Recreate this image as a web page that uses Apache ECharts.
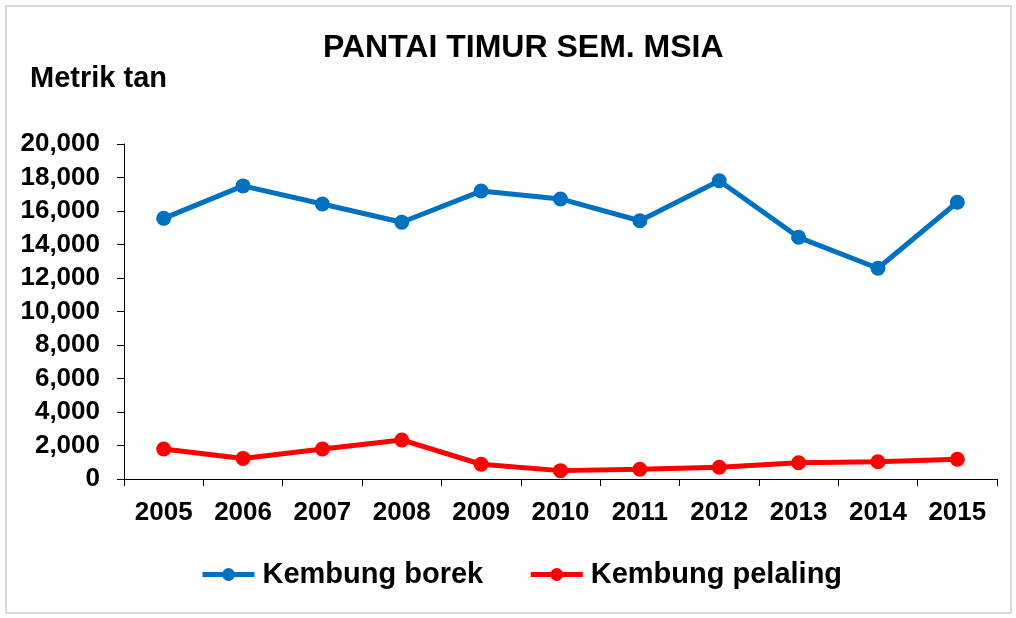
<!DOCTYPE html>
<html>
<head>
<meta charset="utf-8">
<script src="https://cdn.jsdelivr.net/npm/echarts@6/dist/echarts.min.js"></script>
<style>
  html, body { margin: 0; padding: 0; background: #fff; }
  #frame {
    position: absolute; left: 5px; top: 5px;
    width: 1003px; height: 605px;
    border: 2px solid #d9d9d9;
  }
  #chart { position: absolute; left: 0; top: 0; width: 1016px; height: 618px; }
</style>
</head>
<body>
<div id="frame"></div>
<div id="chart"></div>
<script>
// data
const years = ['2005', '2006', '2007', '2008', '2009', '2010', '2011', '2012', '2013', '2014', '2015']
const kembungBorek = [15560, 17500, 16420, 15330, 17190, 16720, 15420, 17810, 14430, 12580, 16520]
const kembungPelaling = [1790, 1230, 1790, 2330, 880, 500, 580, 700, 970, 1030, 1180]

const font = '"Liberation Sans", Arial, sans-serif'

const chart = echarts.init(document.getElementById('chart'))
chart.setOption({
  animation: false,
  title: {
    text: 'PANTAI TIMUR SEM. MSIA',
    left: 318,
    top: 27,
    textStyle: { fontFamily: font, fontSize: 32, fontWeight: 'bold', color: '#000' }
  },
  graphic: [{
    type: 'text',
    left: 30,
    top: 64,
    style: { text: 'Metrik tan', font: 'bold 29px ' + font, fill: '#000' }
  }],
  grid: { left: 124, top: 144, right: 19, bottom: 139 },
  legend: {
    top: 555,
    left: 195,
    itemWidth: 52,
    itemHeight: 16,
    itemGap: 45,
    lineStyle: { width: 5 },
    textStyle: { fontFamily: font, fontSize: 29, fontWeight: 'bold', color: '#000', padding: [0, 0, 0, 3] },
    data: ['Kembung borek', 'Kembung pelaling']
  },
  xAxis: {
    type: 'category',
    data: years,
    boundaryGap: true,
    axisLine: { lineStyle: { color: '#000', width: 1 } },
    axisTick: { show: true, length: 7, lineStyle: { color: '#000' } },
    axisLabel: { fontFamily: font, fontSize: 26, fontWeight: 'bold', color: '#000', margin: 21 }
  },
  yAxis: {
    type: 'value',
    min: 0,
    max: 20000,
    interval: 2000,
    axisLine: { show: true, lineStyle: { color: '#000', width: 1 } },
    axisTick: { show: true, length: 7, lineStyle: { color: '#000' } },
    splitLine: { show: false },
    axisLabel: {
      fontFamily: font, fontSize: 26, fontWeight: 'bold', color: '#000', margin: 24,
      formatter: v => v.toLocaleString('en-US')
    }
  },
  series: [
    {
      name: 'Kembung borek',
      type: 'line',
      data: kembungBorek,
      symbol: 'circle',
      symbolSize: 15,
      lineStyle: { color: '#0070c0', width: 5 },
      itemStyle: { color: '#0070c0' }
    },
    {
      name: 'Kembung pelaling',
      type: 'line',
      data: kembungPelaling,
      symbol: 'circle',
      symbolSize: 15,
      lineStyle: { color: '#ff0000', width: 5 },
      itemStyle: { color: '#ff0000' }
    }
  ]
})
</script>
</body>
</html>
